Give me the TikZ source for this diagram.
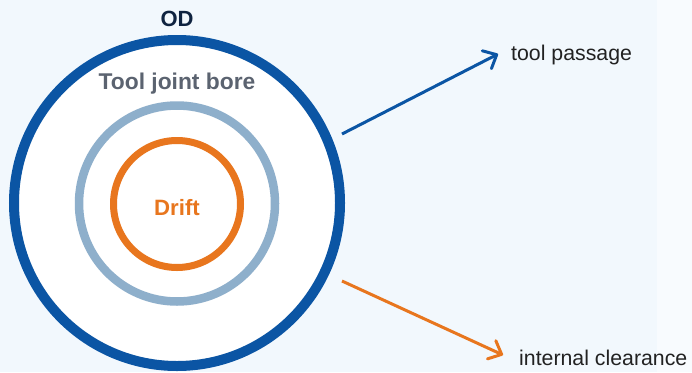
\documentclass[tikz,border=0pt]{standalone}
\usepackage{fontspec}
\setmainfont{Liberation Sans}
\usetikzlibrary{arrows.meta}
\definecolor{bgA}{HTML}{F2F8FD}
\definecolor{bgB}{HTML}{F8FBFE}
\definecolor{odblue}{HTML}{0B55A4}
\definecolor{boreblue}{HTML}{8EAFCB}
\definecolor{driftor}{HTML}{E8761E}
\definecolor{boregrey}{HTML}{5B6370}
\definecolor{odtext}{HTML}{0F2340}
\definecolor{labtext}{HTML}{222222}
\tikzset{
  ring/.style={circle, draw, fill=none, inner sep=0pt, outer sep=0pt},
  bigtxt/.style={font=\fontsize{21.5}{26}\selectfont\bfseries, inner sep=0pt, anchor=base},
  labtxt/.style={font=\fontsize{21.3}{26}\selectfont, text=labtext, inner sep=0pt, anchor=base west},
  pointer/.style={line width=3pt, -{Straight Barb[length=11pt,width=20pt,line width=3pt,round]}}
}
\begin{document}
\begin{tikzpicture}[x=1pt,y=-1pt]
\useasboundingbox (0,0) rectangle (692,372);
\fill[bgA] (0,0) rectangle (657,372);
\fill[bgB] (657,0) rectangle (692,372);
\node[ring, fill=white, draw=odblue, line width=10pt, minimum size=326pt] (od) at (177,203) {};
\node[ring, draw=boreblue, line width=8.5pt, minimum size=196pt] (bore) at (177,203.5) {};
\node[ring, draw=driftor, line width=7pt, minimum size=127pt] (drift) at (177,204) {};
\node[bigtxt, text=odtext, font=\fontsize{22}{26}\selectfont\bfseries] (odl) at (177,26.7) {OD};
\node[bigtxt, text=boregrey, font=\fontsize{22.8}{26}\selectfont\bfseries] (borel) at (177,89.3) {Tool joint bore};
\node[bigtxt, text=driftor, font=\fontsize{22.2}{26}\selectfont\bfseries] (driftl) at (177,215) {Drift};
\node[labtxt] (tp) at (511,60) {tool passage};
\node[labtxt] (ic) at (519,365) {internal clearance};
\coordinate (a1s) at (342,134);
\coordinate (a1e) at (498,54);
\coordinate (a2s) at (342,281);
\coordinate (a2e) at (503,355);
\draw[pointer, odblue] (a1s) -- (a1e);
\draw[pointer, driftor] (a2s) -- (a2e);
\end{tikzpicture}
\end{document}
